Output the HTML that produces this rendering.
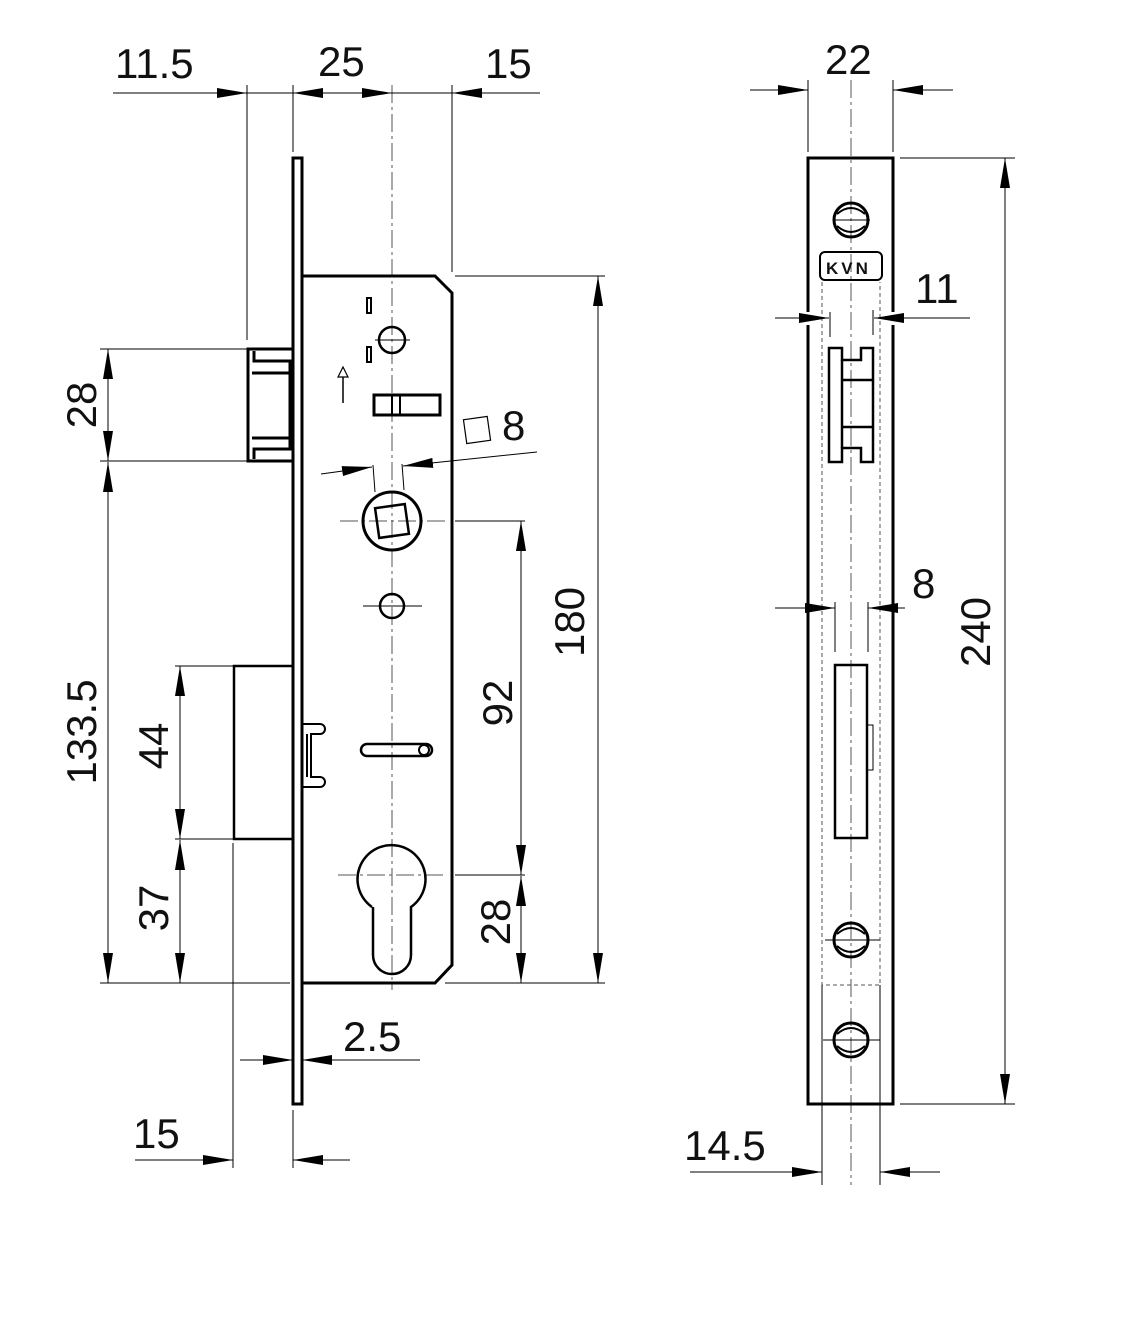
<!DOCTYPE html>
<html><head><style>body{margin:0;background:#fff}svg{display:block}text{font-family:"Liberation Sans",sans-serif;font-size:42px;fill:#111}</style></head><body>
<svg width="1140" height="1322" viewBox="0 0 1140 1322" xmlns="http://www.w3.org/2000/svg">
<defs>
<marker id="a" viewBox="0 0 30 10" refX="30" refY="5" markerWidth="30" markerHeight="10" markerUnits="userSpaceOnUse" orient="auto"><path d="M0,0L30,5L0,10Z" fill="#000"/></marker>
</defs>
<g fill="none" stroke="#000">
<g stroke-width="1" stroke-dasharray="18,4,3,4" stroke="#555">
<line x1="392" y1="85" x2="392" y2="990"/>
<line x1="851" y1="80" x2="851" y2="1185"/>
<line x1="340" y1="521" x2="445" y2="521"/>
<line x1="338" y1="875" x2="445" y2="875"/>
</g>
<g stroke-width="1">
<line x1="375" y1="340" x2="410" y2="340"/>
<line x1="363" y1="606" x2="422" y2="606"/>
<line x1="833" y1="220" x2="870" y2="220"/>
<line x1="825" y1="940" x2="880" y2="940"/>
<line x1="823" y1="1040" x2="880" y2="1040"/>
</g>
<g stroke-width="3">
<rect x="293" y="158" width="9" height="946"/>
<path d="M302,276H435L452,293V965L435,983H302"/>
<rect x="248" y="349" width="45" height="112"/>
<path d="M254,351V361H293M254,459V449H293M252,373H290M252,438H290M290,361V449"/>
<rect x="234" y="666" width="59" height="173" stroke-width="2.5"/>
<path d="M302,724H320a5,5 0 0 1 0,10H311V777H320a5,5 0 0 1 0,10H302M311,734V777M307,734V777" stroke-width="2"/>
<rect x="367" y="298" width="4" height="15" stroke-width="2"/>
<rect x="367" y="347" width="4" height="15" stroke-width="2"/>
<circle cx="392" cy="340" r="13" stroke-width="2.5"/>
<rect x="374" y="395" width="66" height="20"/>
<line x1="392" y1="395" x2="392" y2="415" stroke-width="2"/>
<line x1="400" y1="395" x2="400" y2="415" stroke-width="2"/>
<circle cx="392" cy="521" r="29"/>
<rect x="377" y="506" width="30" height="30" transform="rotate(-8 392 521)" stroke-width="2.5"/>
<circle cx="392" cy="606" r="12" stroke-width="2.5"/>
<path d="M367,744H426a6,6 0 0 1 0,12H367a6,6 0 0 1 0,-12Z" stroke-width="2.5"/>
<circle cx="424" cy="750" r="5" stroke-width="2"/>
<path d="M372,907A34,34 0 1 1 411,907V955A19,19 0 0 1 373,955V907" stroke-width="2.5"/>
</g>
<path d="M343,403V372" stroke-width="1.5"/>
<path d="M338,377L343,367L348,377Z" stroke-width="1.2" fill="#fff"/>
<rect x="465" y="418" width="24" height="24" transform="rotate(-8 477 430)" stroke-width="1.2"/>
<g stroke-width="1">
<line x1="247" y1="85" x2="247" y2="340"/>
<line x1="293" y1="85" x2="293" y2="152"/>
<line x1="452" y1="85" x2="452" y2="272"/>
<line x1="113" y1="93" x2="247" y2="93" marker-end="url(#a)"/>
<line x1="247" y1="93" x2="540" y2="93"/>
<line x1="360" y1="93" x2="293" y2="93" marker-end="url(#a)"/>
<line x1="330" y1="93" x2="392" y2="93" marker-end="url(#a)"/>
<line x1="540" y1="93" x2="452" y2="93" marker-end="url(#a)"/>
<line x1="100" y1="349" x2="248" y2="349"/><line x1="100" y1="461" x2="248" y2="461"/>
<line x1="175" y1="666" x2="233" y2="666"/><line x1="175" y1="839" x2="290" y2="839"/>
<line x1="100" y1="983" x2="290" y2="983"/><line x1="445" y1="983" x2="605" y2="983"/>
<line x1="455" y1="276" x2="605" y2="276"/>
<line x1="455" y1="521" x2="525" y2="521"/><line x1="455" y1="875" x2="525" y2="875"/>
<line x1="108" y1="405" x2="108" y2="349" marker-end="url(#a)"/><line x1="108" y1="405" x2="108" y2="461" marker-end="url(#a)"/>
<line x1="108" y1="720" x2="108" y2="462" marker-end="url(#a)"/><line x1="108" y1="720" x2="108" y2="983" marker-end="url(#a)"/>
<line x1="180" y1="750" x2="180" y2="666" marker-end="url(#a)"/><line x1="180" y1="750" x2="180" y2="839" marker-end="url(#a)"/>
<line x1="180" y1="910" x2="180" y2="840" marker-end="url(#a)"/><line x1="180" y1="910" x2="180" y2="983" marker-end="url(#a)"/>
<line x1="598" y1="630" x2="598" y2="276" marker-end="url(#a)"/><line x1="598" y1="630" x2="598" y2="983" marker-end="url(#a)"/>
<line x1="521" y1="700" x2="521" y2="521" marker-end="url(#a)"/><line x1="521" y1="700" x2="521" y2="875" marker-end="url(#a)"/>
<line x1="521" y1="930" x2="521" y2="876" marker-end="url(#a)"/><line x1="521" y1="930" x2="521" y2="983" marker-end="url(#a)"/>
<line x1="321" y1="474" x2="372" y2="467" marker-end="url(#a)"/>
<line x1="537" y1="452" x2="403" y2="466" marker-end="url(#a)"/>
<line x1="373" y1="465" x2="375" y2="492"/><line x1="402" y1="464" x2="404" y2="490"/>
<line x1="233" y1="843" x2="233" y2="1168"/><line x1="293" y1="1110" x2="293" y2="1168"/>
<line x1="240" y1="1060" x2="293" y2="1060" marker-end="url(#a)"/>
<line x1="420" y1="1060" x2="302" y2="1060" marker-end="url(#a)"/>
<line x1="135" y1="1160" x2="233" y2="1160" marker-end="url(#a)"/>
<line x1="350" y1="1160" x2="293" y2="1160" marker-end="url(#a)"/>
</g>
<g stroke-width="3">
<path d="M808,312V158H893V312M808,325V1104H893V325"/>
<rect x="820" y="252" width="62" height="28" rx="5" stroke-width="2"/>
<path d="M829,348H842V360H861V348H873V462H861V448H842V462H829Z" stroke-width="2.5"/>
<line x1="842" y1="360" x2="842" y2="448" stroke-width="2.5"/>
<line x1="842" y1="380" x2="873" y2="380" stroke-width="2.5"/><line x1="842" y1="427" x2="873" y2="427" stroke-width="2.5"/>
<rect x="835" y="665" width="32" height="173" stroke-width="2.5"/>
<circle cx="851" cy="220" r="17"/><circle cx="851" cy="940" r="17"/><circle cx="851" cy="1040" r="17"/>
</g>
<rect x="867" y="725" width="6" height="45" stroke-width="1"/>
<path d="M837,214Q851,202 865,214M837,226Q851,238 865,226M837,934Q851,922 865,934M837,946Q851,958 865,946M837,1034Q851,1022 865,1034M837,1046Q851,1058 865,1046" stroke-width="2"/>
<g stroke-width="1" stroke-dasharray="4,3" stroke="#555">
<path d="M822,282V985H880V282"/>
</g>
<g stroke-width="1">
<line x1="808" y1="80" x2="808" y2="152"/><line x1="893" y1="80" x2="893" y2="152"/>
<line x1="750" y1="90" x2="808" y2="90" marker-end="url(#a)"/><line x1="953" y1="90" x2="893" y2="90" marker-end="url(#a)"/>
<line x1="900" y1="158" x2="1015" y2="158"/><line x1="900" y1="1104" x2="1015" y2="1104"/>
<line x1="1005" y1="630" x2="1005" y2="158" marker-end="url(#a)"/><line x1="1005" y1="630" x2="1005" y2="1104" marker-end="url(#a)"/>
<line x1="775" y1="318" x2="829" y2="318" marker-end="url(#a)"/>
<line x1="970" y1="318" x2="874" y2="318" marker-end="url(#a)"/>
<line x1="830" y1="312" x2="830" y2="337"/><line x1="873" y1="310" x2="873" y2="335"/>
<line x1="775" y1="608" x2="835" y2="608" marker-end="url(#a)"/>
<line x1="905" y1="608" x2="868" y2="608" marker-end="url(#a)"/>
<line x1="835" y1="602" x2="835" y2="652"/><line x1="868" y1="602" x2="868" y2="652"/>
<line x1="822" y1="985" x2="822" y2="1185"/><line x1="880" y1="985" x2="880" y2="1185"/>
<line x1="690" y1="1172" x2="822" y2="1172" marker-end="url(#a)"/>
<line x1="940" y1="1172" x2="880" y2="1172" marker-end="url(#a)"/>
</g>
</g>
<text x="115" y="78">11.5</text>
<text x="318" y="76">25</text>
<text x="485" y="78">15</text>
<text x="825" y="74">22</text>
<text x="915" y="303">11</text>
<text x="912" y="598">8</text>
<text x="502" y="440">8</text>
<text x="343" y="1051">2.5</text>
<text x="133" y="1148">15</text>
<text x="684" y="1160">14.5</text>
<text x="826" y="274" style="font-size:17px;font-weight:bold;letter-spacing:3px">KVN</text>
<g>
<text transform="translate(96,405) rotate(-90)" text-anchor="middle">28</text>
<text transform="translate(96,732) rotate(-90)" text-anchor="middle">133.5</text>
<text transform="translate(168,746) rotate(-90)" text-anchor="middle">44</text>
<text transform="translate(168,908) rotate(-90)" text-anchor="middle">37</text>
<text transform="translate(512,703) rotate(-90)" text-anchor="middle">92</text>
<text transform="translate(510,922) rotate(-90)" text-anchor="middle">28</text>
<text transform="translate(584,622) rotate(-90)" text-anchor="middle">180</text>
<text transform="translate(990,632) rotate(-90)" text-anchor="middle">240</text>
</g>
</svg>
</body></html>
